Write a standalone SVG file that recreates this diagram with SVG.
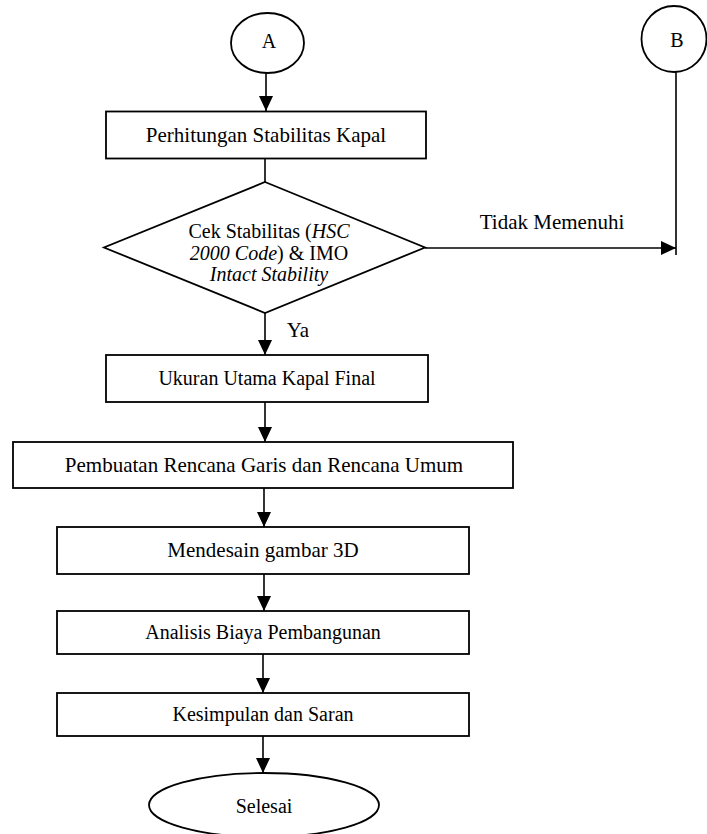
<svg xmlns="http://www.w3.org/2000/svg" width="707" height="834" viewBox="0 0 707 834">
<style>
.box{fill:#fff;stroke:#000;stroke-width:1.8}
.ln{fill:none;stroke:#000;stroke-width:1.6}
.t{font-family:"Liberation Serif","Times New Roman",serif;font-size:20px;fill:#000;text-anchor:middle}
.i{font-style:italic}
</style>
<defs>
<marker id="ah" viewBox="0 0 15 14" refX="15" refY="7" markerWidth="15" markerHeight="14" markerUnits="userSpaceOnUse" orient="auto">
<path d="M0,0 L15,7 L0,14 z" fill="#000"/>
</marker>
</defs>
<rect width="707" height="834" fill="#fff"/>
<g id="connectors">
<line class="ln" x1="266" y1="73" x2="266" y2="111" marker-end="url(#ah)"/>
<line class="ln" x1="265" y1="158" x2="265" y2="182"/>
<line class="ln" x1="265" y1="313" x2="265" y2="355" marker-end="url(#ah)"/>
<line class="ln" x1="425" y1="248" x2="676" y2="248" marker-end="url(#ah)"/>
<line class="ln" x1="676" y1="72" x2="676" y2="255"/>
<line class="ln" x1="265" y1="402" x2="265" y2="442" marker-end="url(#ah)"/>
<line class="ln" x1="264" y1="488" x2="264" y2="527" marker-end="url(#ah)"/>
<line class="ln" x1="264" y1="574" x2="264" y2="611" marker-end="url(#ah)"/>
<line class="ln" x1="263" y1="654" x2="263" y2="693" marker-end="url(#ah)"/>
<line class="ln" x1="263" y1="736" x2="263" y2="773" marker-end="url(#ah)"/>
<text class="t" x="298" y="337" style="font-size:21px">Ya</text>
<text class="t" x="552" y="229" style="font-size:21px">Tidak Memenuhi</text>
</g>
<g id="nodeA">
<ellipse class="box" cx="267.5" cy="43" rx="36.5" ry="30"/>
<text class="t" x="269" y="48">A</text>
</g>
<g id="nodeB">
<ellipse class="box" cx="674" cy="39" rx="32.5" ry="33"/>
<text class="t" x="677" y="47">B</text>
</g>
<g id="perhitungan">
<rect class="box" x="106" y="111.5" width="320" height="47"/>
<text class="t" x="266" y="142" style="font-size:21px">Perhitungan Stabilitas Kapal</text>
</g>
<g id="cek">
<polygon class="box" points="265,182 425,247.5 265,313 104,247.5"/>
<text class="t" x="269" y="238">Cek Stabilitas (<tspan class="i">HSC</tspan></text>
<text class="t" x="269" y="260"><tspan class="i">2000 Code</tspan>) &amp; IMO</text>
<text class="t i" x="269" y="281">Intact Stability</text>
</g>
<g id="ukuran">
<rect class="box" x="106" y="355" width="322" height="47"/>
<text class="t" x="267" y="385">Ukuran Utama Kapal Final</text>
</g>
<g id="pembuatan">
<rect class="box" x="13" y="442" width="500" height="46"/>
<text class="t" x="264" y="472" style="font-size:21px">Pembuatan Rencana Garis dan Rencana Umum</text>
</g>
<g id="mendesain">
<rect class="box" x="57" y="527" width="412" height="47"/>
<text class="t" x="263" y="557" style="font-size:21px">Mendesain gambar 3D</text>
</g>
<g id="analisis">
<rect class="box" x="57" y="611" width="412" height="43"/>
<text class="t" x="263" y="639">Analisis Biaya Pembangunan</text>
</g>
<g id="kesimpulan">
<rect class="box" x="57" y="693" width="412" height="43"/>
<text class="t" x="263" y="721">Kesimpulan dan Saran</text>
</g>
<g id="selesai">
<ellipse class="box" cx="264" cy="805" rx="115" ry="32"/>
<text class="t" x="264" y="813">Selesai</text>
</g>
</svg>
